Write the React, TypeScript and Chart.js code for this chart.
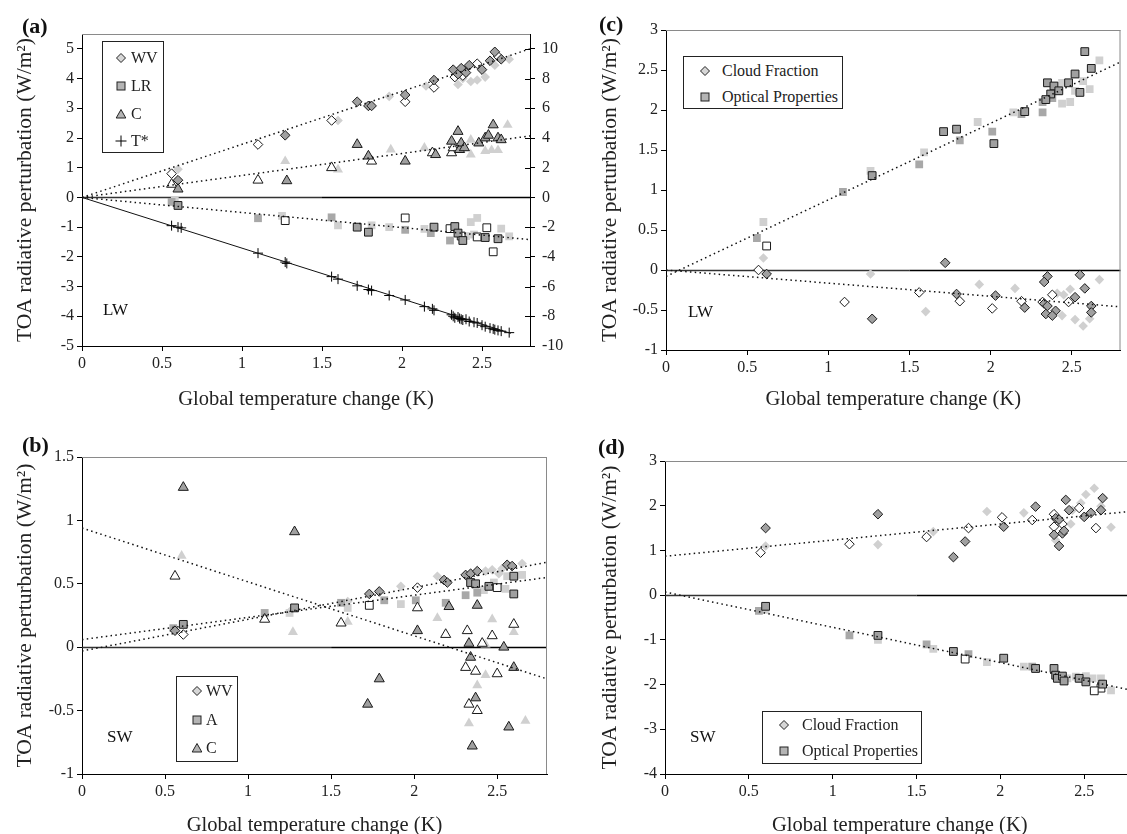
import React, { useEffect, useRef } from 'react';
import { Chart, registerables } from 'chart.js';
Chart.register(...registerables);

type P = [number, number];

// ---------- Panel (a) LW : left axis W/m2, T* on right axis ----------
const aWV_dark: P[] = [[0.6,0.58],[1.27,2.09],[1.72,3.22],[1.79,3.08],[1.81,3.08],[2.02,3.45],[2.2,3.95],[2.32,4.3],[2.35,4.15],[2.37,4.35],[2.4,4.2],[2.42,4.45],[2.5,4.3],[2.55,4.6],[2.58,4.9],[2.62,4.65]];
const aWV_open: P[] = [[0.56,0.8],[1.1,1.78],[1.56,2.59],[2.02,3.22],[2.2,3.7],[2.33,4.05],[2.38,4.1],[2.47,4.5],[2.6,4.75]];
const aWV_light: P[] = [[0.6,0.95],[1.6,2.59],[1.92,3.4],[2.15,3.75],[2.35,3.8],[2.43,3.9],[2.47,3.95],[2.52,4.05],[2.58,4.45],[2.67,4.65],[2.38,4.0]];
const aLR_dark: P[] = [[0.6,-0.27],[1.72,-1.0],[1.79,-1.17],[2.2,-1.0],[2.33,-0.98],[2.35,-1.2],[2.38,-1.45],[2.52,-1.35],[2.6,-1.39]];
const aLR_open: P[] = [[1.27,-0.78],[2.02,-0.69],[2.3,-1.05],[2.37,-1.3],[2.47,-1.33],[2.53,-1.02],[2.57,-1.83]];
const aLR_mid: P[] = [[0.56,-0.15],[1.1,-0.7],[1.56,-0.67],[2.02,-1.09],[2.18,-1.2],[2.3,-1.45]];
const aLR_light: P[] = [[0.58,-0.1],[1.25,-0.62],[1.6,-0.94],[1.81,-0.94],[1.92,-1.0],[2.14,-1.06],[2.4,-1.3],[2.43,-0.83],[2.47,-0.69],[2.62,-1.05],[2.67,-1.31],[2.45,-1.25]];
const aC_dark: P[] = [[0.6,0.28],[1.28,0.56],[1.72,1.78],[1.79,1.39],[2.02,1.22],[2.21,1.44],[2.31,1.89],[2.35,2.22],[2.36,1.61],[2.37,1.83],[2.39,1.67],[2.48,1.83],[2.52,2.0],[2.54,2.09],[2.57,2.44],[2.6,2.0],[2.62,1.94]];
const aC_open: P[] = [[0.56,0.44],[1.1,0.58],[1.56,1.0],[1.81,1.22],[2.19,1.5],[2.31,1.5],[2.32,1.67]];
const aC_light: P[] = [[1.27,1.22],[1.6,0.94],[1.93,1.61],[2.14,1.67],[2.43,1.94],[2.43,1.44],[2.52,1.56],[2.56,1.59],[2.6,1.59],[2.66,2.44]];
const aT_right: P[] = [[0.56,-1.9],[0.6,-2.0],[0.62,-2.05],[1.1,-3.75],[1.27,-4.35],[1.28,-4.44],[1.56,-5.33],[1.6,-5.5],[1.72,-5.95],[1.79,-6.2],[1.81,-6.27],[1.92,-6.6],[2.02,-6.9],[2.14,-7.35],[2.19,-7.5],[2.2,-7.6],[2.31,-7.9],[2.32,-8.0],[2.33,-8.1],[2.35,-8.05],[2.36,-8.15],[2.37,-8.2],[2.38,-8.25],[2.4,-8.2],[2.42,-8.35],[2.45,-8.4],[2.47,-8.45],[2.5,-8.6],[2.52,-8.7],[2.55,-8.8],[2.57,-8.85],[2.58,-8.9],[2.6,-8.95],[2.62,-9.0],[2.67,-9.1]];
const aWV_fit: P[] = [[0,0],[2.8,5.0]];
const aLR_fit: P[] = [[0,0],[2.8,-1.42]];
const aC_fit: P[] = [[0,0],[2.8,2.07]];
const aT_fit: P[] = [[0,0],[2.68,-9.15]];

// ---------- Panel (b) SW ----------
const bWV_dark: P[] = [[0.56,0.13],[1.73,0.42],[1.79,0.44],[2.18,0.53],[2.2,0.51],[2.31,0.57],[2.34,0.58],[2.38,0.6],[2.56,0.65],[2.59,0.64]];
const bWV_open: P[] = [[0.61,0.1],[2.02,0.47]];
const bWV_light: P[] = [[1.25,0.28],[1.6,0.36],[1.92,0.48],[2.14,0.56],[2.43,0.6],[2.47,0.61],[2.51,0.58],[2.53,0.62],[2.65,0.66]];
const bA_dark: P[] = [[0.61,0.18],[1.28,0.31],[2.34,0.51],[2.37,0.5],[2.45,0.48],[2.6,0.42],[2.6,0.56]];
const bA_open: P[] = [[1.73,0.33],[2.5,0.47]];
const bA_mid: P[] = [[0.55,0.15],[1.1,0.27],[1.56,0.35],[1.82,0.37],[2.01,0.37],[2.19,0.35],[2.31,0.41],[2.38,0.43]];
const bA_light: P[] = [[1.25,0.27],[1.6,0.31],[1.92,0.34],[2.42,0.45],[2.48,0.51],[2.55,0.46],[2.56,0.56],[2.65,0.57]];
const bC_dark: P[] = [[0.61,1.26],[1.28,0.91],[1.72,-0.45],[1.79,-0.25],[2.02,0.13],[2.21,0.32],[2.33,0.03],[2.34,-0.08],[2.38,0.33],[2.54,0.0],[2.6,-0.16],[2.35,-0.78],[2.37,-0.4],[2.57,-0.63]];
const bC_open: P[] = [[0.56,0.56],[1.1,0.22],[1.56,0.19],[2.02,0.31],[2.19,0.1],[2.32,0.13],[2.31,-0.16],[2.37,-0.19],[2.41,0.03],[2.47,0.09],[2.5,-0.21],[2.6,0.18],[2.33,-0.45],[2.38,-0.5]];
const bC_light: P[] = [[0.6,0.72],[1.27,0.12],[1.6,0.2],[2.14,0.23],[2.43,0.02],[2.43,-0.22],[2.47,0.22],[2.6,0.12],[2.38,-0.3],[2.33,-0.6],[2.67,-0.58]];
const bC_fit: P[] = [[0,0.94],[2.8,-0.25]];
const bWV_fit: P[] = [[0,-0.03],[2.8,0.67]];
const bA_fit: P[] = [[0,0.06],[2.8,0.55]];

// ---------- Panel (c) LW clouds ----------
const cCF_dark: P[] = [[0.62,-0.05],[1.27,-0.61],[1.72,0.09],[1.79,-0.3],[2.03,-0.32],[2.21,-0.47],[2.35,-0.08],[2.33,-0.15],[2.33,-0.42],[2.35,-0.45],[2.34,-0.55],[2.4,-0.51],[2.38,-0.57],[2.52,-0.34],[2.55,-0.06],[2.58,-0.23],[2.62,-0.45],[2.62,-0.53]];
const cCF_open: P[] = [[0.57,0.0],[1.1,-0.4],[1.56,-0.28],[1.81,-0.39],[2.01,-0.48],[2.19,-0.39],[2.32,-0.4],[2.38,-0.31],[2.48,-0.4]];
const cCF_light: P[] = [[0.6,0.15],[1.26,-0.05],[1.6,-0.52],[1.93,-0.18],[2.15,-0.23],[2.41,-0.29],[2.45,-0.31],[2.44,-0.57],[2.49,-0.24],[2.52,-0.62],[2.57,-0.7],[2.61,-0.61],[2.67,-0.12]];
const cOP_dark: P[] = [[1.27,1.18],[1.71,1.73],[1.79,1.76],[2.02,1.58],[2.21,1.98],[2.35,2.34],[2.39,2.3],[2.37,2.2],[2.34,2.13],[2.42,2.24],[2.48,2.34],[2.52,2.45],[2.55,2.22],[2.58,2.73],[2.62,2.52]];
const cOP_open: P[] = [[0.62,0.3]];
const cOP_mid: P[] = [[0.56,0.4],[1.09,0.975],[1.56,1.32],[1.81,1.62],[2.01,1.73],[2.19,1.95],[2.32,1.97],[2.32,2.1],[2.38,2.15]];
const cOP_light: P[] = [[0.6,0.6],[1.26,1.24],[1.59,1.47],[1.92,1.85],[2.14,1.97],[2.44,2.34],[2.44,2.08],[2.49,2.1],[2.52,2.24],[2.57,2.36],[2.61,2.26],[2.67,2.62]];
const cOP_fit: P[] = [[0,-0.08],[2.8,2.6]];
const cCF_fit: P[] = [[0,0.0],[2.8,-0.46]];

// ---------- Panel (d) SW clouds ----------
const dCF_open: P[] = [[0.57,0.95],[1.1,1.14],[1.56,1.3],[1.81,1.5],[2.01,1.74],[2.19,1.68],[2.32,1.81],[2.32,1.53],[2.37,1.59],[2.47,1.95],[2.57,1.5]];
const dCF_dark: P[] = [[0.6,1.5],[1.27,1.81],[1.72,0.85],[1.79,1.2],[2.02,1.53],[2.21,1.98],[2.33,1.72],[2.35,1.69],[2.32,1.35],[2.35,1.1],[2.37,1.38],[2.38,1.44],[2.39,2.13],[2.41,1.9],[2.5,1.75],[2.54,1.84],[2.61,2.17],[2.6,1.9]];
const dCF_light: P[] = [[0.6,1.1],[1.27,1.13],[1.6,1.42],[1.92,1.87],[2.14,1.84],[2.33,1.23],[2.42,1.59],[2.43,1.9],[2.48,2.06],[2.51,2.25],[2.56,2.39],[2.6,1.99],[2.66,1.52]];
const dOP_mid: P[] = [[0.56,-0.35],[1.1,-0.9],[1.56,-1.1],[1.81,-1.32],[2.19,-1.6]];
const dOP_dark: P[] = [[0.6,-0.25],[1.27,-0.9],[1.72,-1.26],[2.02,-1.41],[2.21,-1.64],[2.32,-1.64],[2.33,-1.79],[2.34,-1.86],[2.37,-1.81],[2.38,-1.92],[2.47,-1.86],[2.51,-1.94],[2.61,-1.99]];
const dOP_open: P[] = [[1.79,-1.43],[2.6,-2.08],[2.56,-2.14]];
const dOP_light: P[] = [[0.6,-0.33],[1.27,-1.0],[1.6,-1.2],[1.92,-1.5],[2.14,-1.6],[2.4,-1.86],[2.45,-1.82],[2.51,-1.81],[2.55,-1.86],[2.6,-1.86],[2.66,-2.13]];
const dCF_fit: P[] = [[0,0.87],[2.8,1.88]];
const dOP_fit: P[] = [[0,0.07],[2.8,-2.14]];

const X_TITLE = 'Global temperature change (K)';
const Y_TITLE = 'TOA radiative perturbation (W/m²)';

// ------------------------------------------------------------
const SERIF = "'Liberation Serif', 'Times New Roman', serif";
const TICK_SIZE = 16;
const XT_SIZE = 20.5;
const YT_SIZE = 21.5;
type Style = 'dark' | 'open' | 'mid' | 'light';
const STY: Record<Style, { bg: string; bd: string; bw: number; order: number }> = {
  dark: { bg: '#a0a0a0', bd: '#1a1a1a', bw: 1, order: 2 },
  open: { bg: '#ffffff', bd: '#1a1a1a', bw: 1, order: 2 },
  mid: { bg: '#a8a8a8', bd: '#a8a8a8', bw: 0, order: 3 },
  light: { bg: '#d0d0d0', bd: '#d0d0d0', bw: 0, order: 4 },
};
const RAD: Record<string, number> = { rectRot: 4.8, rect: 5.5, triangle: 5.8, cross: 5 };

function pts(data: P[], shape: string, style: Style, yAxisID = 'y') {
  const s = STY[style];
  return {
    data: data.map(([x, y]) => ({ x, y })),
    pointStyle: shape,
    pointRadius: RAD[shape],
    pointBackgroundColor: s.bg,
    pointBorderColor: s.bd,
    pointBorderWidth: s.bw,
    showLine: false,
    yAxisID,
    order: s.order,
  };
}
function cross(data: P[], yAxisID = 'y') {
  return {
    data: data.map(([x, y]) => ({ x, y })),
    pointStyle: 'cross',
    pointRadius: RAD.cross,
    pointBorderColor: '#000',
    pointBorderWidth: 1,
    showLine: false,
    yAxisID,
    order: 2,
  };
}
function fit(data: P[], dashed = true, yAxisID = 'y') {
  return {
    data: data.map(([x, y]) => ({ x, y })),
    showLine: true,
    borderColor: '#111',
    borderWidth: dashed ? 1.5 : 1,
    borderDash: dashed ? [1.5, 3.3] : [],
    pointRadius: 0,
    fill: false,
    yAxisID,
    order: 1,
  };
}

const fmt = (v: number) => String(Math.round(v * 100) / 100);

// zero reference line: slightly lighter up to x = 1.5, solid black beyond (as in the original)
const zeroPlugin = {
  id: 'zeroLine',
  beforeDatasetsDraw(chart: any) {
    const { ctx, chartArea, scales } = chart;
    const y0 = Math.round(scales.y.getPixelForValue(0)) + 0.5;
    const xm = scales.x.getPixelForValue(1.5);
    ctx.save();
    ctx.lineWidth = 1.3;
    ctx.strokeStyle = '#333';
    ctx.beginPath();
    ctx.moveTo(chartArea.left, y0);
    ctx.lineTo(xm, y0);
    ctx.stroke();
    ctx.lineWidth = 1.6;
    ctx.strokeStyle = '#000';
    ctx.beginPath();
    ctx.moveTo(xm, y0);
    ctx.lineTo(chartArea.right, y0);
    ctx.stroke();
    ctx.restore();
  },
};

const framePlugin = {
  id: 'frame',
  afterDraw(chart: any, _args: any, opts: any) {
    const { ctx, chartArea } = chart;
    const { left, right, top, bottom } = chartArea;
    ctx.save();
    ctx.strokeStyle = '#8a8a8a';
    ctx.lineWidth = 1;
    ctx.beginPath();
    ctx.moveTo(left, top + 0.5);
    ctx.lineTo(right, top + 0.5);
    if (!opts.y2) {
      ctx.moveTo(right - 0.5, top);
      ctx.lineTo(right - 0.5, bottom);
    }
    ctx.stroke();
    if (opts.y2 && chart.scales.y2) {
      ctx.strokeStyle = '#000';
      ctx.beginPath();
      for (const t of chart.scales.y2.ticks) {
        const py = Math.round(chart.scales.y2.getPixelForValue(t.value)) + 0.5;
        ctx.moveTo(right - 5, py);
        ctx.lineTo(right, py);
      }
      ctx.stroke();
    }
    ctx.restore();
  },
};

interface PanelCfg {
  left: number; top: number; width: number; height: number;
  area: { left: number; right: number; top: number; bottom: number };
  xMax: number;
  y: { min: number; max: number; step: number };
  y2?: { min: number; max: number; step: number };
  yTitleCenter: number; // px from canvas left
  xTitleCenter: number; // px from canvas bottom
  datasets: any[];
}

function makeChart(canvas: HTMLCanvasElement, c: PanelCfg) {
  const tickFont = { family: SERIF, size: TICK_SIZE };
  const xtFont = { family: SERIF, size: XT_SIZE, lineHeight: 1 };
  const ytFont = { family: SERIF, size: YT_SIZE, lineHeight: 1 };
  const scales: any = {
    x: {
      type: 'linear', min: 0, max: c.xMax,
      afterFit: (s: any) => { s.height = c.height - c.area.bottom; },
      ticks: { stepSize: 0.5, includeBounds: false, autoSkip: false, maxRotation: 0, font: tickFont, color: '#222', padding: 3, callback: (v: any) => fmt(v) },
      grid: { drawOnChartArea: false, drawTicks: true, tickLength: 5, tickColor: '#000', tickWidth: 1 },
      border: { display: true, color: '#000', width: 1 },
      title: { display: true, text: X_TITLE, font: xtFont, color: '#222', padding: { top: 0, bottom: c.xTitleCenter - XT_SIZE / 2 } },
    },
    y: {
      type: 'linear', position: 'left', min: c.y.min, max: c.y.max,
      afterFit: (s: any) => { s.width = c.area.left; },
      ticks: { stepSize: c.y.step, includeBounds: false, autoSkip: false, font: tickFont, color: '#222', padding: 3, callback: (v: any) => fmt(v) },
      grid: { drawOnChartArea: false, drawTicks: true, tickLength: 5, tickColor: '#000', tickWidth: 1 },
      border: { display: true, color: '#000', width: 1 },
      title: { display: true, text: Y_TITLE, font: ytFont, color: '#222', padding: { top: c.yTitleCenter - YT_SIZE / 2, bottom: 0 } },
    },
  };
  if (c.y2) {
    scales.y2 = {
      type: 'linear', position: 'right', min: c.y2.min, max: c.y2.max,
      afterFit: (s: any) => { s.width = c.width - c.area.right; },
      ticks: { stepSize: c.y2.step, includeBounds: false, autoSkip: false, font: tickFont, color: '#222', padding: 7, callback: (v: any) => fmt(v) },
      grid: { drawOnChartArea: false, drawTicks: true, tickLength: 5, tickColor: '#000', tickWidth: 1 },
      border: { display: true, color: '#000', width: 1 },
    };
  }
  return new Chart(canvas, {
    type: 'scatter',
    data: { datasets: c.datasets },
    plugins: [zeroPlugin, framePlugin],
    options: {
      responsive: false,
      animation: false,
      events: [],
      devicePixelRatio: 1,
      layout: { padding: { left: 0, top: c.area.top, right: c.y2 ? 0 : c.width - c.area.right, bottom: 0 } },
      plugins: { legend: { display: false }, tooltip: { enabled: false }, frame: { y2: !!c.y2 } } as any,
      scales,
    } as any,
  });
}

const PANELS: PanelCfg[] = [
  {
    left: 0, top: 0, width: 575, height: 420,
    area: { left: 82, right: 530, top: 34, bottom: 346 },
    xMax: 2.8, y: { min: -5, max: 5.5, step: 1 }, y2: { min: -10, max: 11, step: 2 },
    yTitleCenter: 25, xTitleCenter: 20,
    datasets: [
      fit(aWV_fit), fit(aLR_fit), fit(aC_fit), fit(aT_fit, false, 'y2'),
      pts(aWV_dark, 'rectRot', 'dark'), pts(aWV_open, 'rectRot', 'open'), pts(aWV_light, 'rectRot', 'light'),
      pts(aLR_dark, 'rect', 'dark'), pts(aLR_open, 'rect', 'open'), pts(aLR_mid, 'rect', 'mid'), pts(aLR_light, 'rect', 'light'),
      pts(aC_dark, 'triangle', 'dark'), pts(aC_open, 'triangle', 'open'), pts(aC_light, 'triangle', 'light'),
      cross(aT_right, 'y2'),
    ],
  },
  {
    left: 0, top: 420, width: 560, height: 420,
    area: { left: 82, right: 547, top: 37, bottom: 354 },
    xMax: 2.8, y: { min: -1, max: 1.5, step: 0.5 },
    yTitleCenter: 25, xTitleCenter: 14,
    datasets: [
      fit(bC_fit), fit(bWV_fit), fit(bA_fit),
      pts(bWV_dark, 'rectRot', 'dark'), pts(bWV_open, 'rectRot', 'open'), pts(bWV_light, 'rectRot', 'light'),
      pts(bA_dark, 'rect', 'dark'), pts(bA_open, 'rect', 'open'), pts(bA_mid, 'rect', 'mid'), pts(bA_light, 'rect', 'light'),
      pts(bC_dark, 'triangle', 'dark'), pts(bC_open, 'triangle', 'open'), pts(bC_light, 'triangle', 'light'),
    ],
  },
  {
    left: 560, top: 0, width: 567, height: 420,
    area: { left: 106, right: 565, top: 30, bottom: 350 },
    xMax: 2.8, y: { min: -1, max: 3, step: 0.5 },
    yTitleCenter: 50, xTitleCenter: 20,
    datasets: [
      fit(cOP_fit), fit(cCF_fit),
      pts(cCF_dark, 'rectRot', 'dark'), pts(cCF_open, 'rectRot', 'open'), pts(cCF_light, 'rectRot', 'light'),
      pts(cOP_dark, 'rect', 'dark'), pts(cOP_open, 'rect', 'open'), pts(cOP_mid, 'rect', 'mid'), pts(cOP_light, 'rect', 'light'),
    ],
  },
  {
    left: 560, top: 420, width: 581, height: 420,
    area: { left: 105, right: 578, top: 41, bottom: 354 },
    xMax: 2.8, y: { min: -4, max: 3, step: 1 },
    yTitleCenter: 50, xTitleCenter: 14,
    datasets: [
      fit(dCF_fit), fit(dOP_fit),
      pts(dCF_dark, 'rectRot', 'dark'), pts(dCF_open, 'rectRot', 'open'), pts(dCF_light, 'rectRot', 'light'),
      pts(dOP_dark, 'rect', 'dark'), pts(dOP_open, 'rect', 'open'), pts(dOP_mid, 'rect', 'mid'), pts(dOP_light, 'rect', 'light'),
    ],
  },
];

function Panel({ cfg }: { cfg: PanelCfg }) {
  const ref = useRef<HTMLCanvasElement>(null);
  useEffect(() => {
    if (!ref.current) return;
    const ch = makeChart(ref.current, cfg);
    return () => ch.destroy();
  }, [cfg]);
  return (
    <canvas
      ref={ref}
      width={cfg.width}
      height={cfg.height}
      style={{ position: 'absolute', left: cfg.left, top: cfg.top, width: cfg.width, height: cfg.height }}
    />
  );
}

function Marker({ shape }: { shape: string }) {
  const st = { stroke: '#222', strokeWidth: 1, fill: '#b4b4b4' };
  return (
    <svg width={12} height={12} viewBox="0 0 12 12" style={{ display: 'block' }}>
      {shape === 'diamond' && <polygon points="6,1.5 10.5,6 6,10.5 1.5,6" {...st} fill="#d6d6d6" />}
      {shape === 'square' && <rect x={2} y={2} width={8} height={8} {...st} />}
      {shape === 'triangle' && <polygon points="6,1.5 10.8,10 1.2,10" {...st} />}
      {shape === 'plus' && (
        <g stroke="#000" strokeWidth={1}>
          <line x1={6} y1={0.5} x2={6} y2={11.5} />
          <line x1={0.5} y1={6} x2={11.5} y2={6} />
        </g>
      )}
    </svg>
  );
}

interface LegendProps {
  left: number; top: number; width: number; height: number;
  markerX: number; textX: number; rows: number[];
  items: { shape: string; label: string }[];
  size: number;
}
function Legend(p: LegendProps) {
  return (
    <div style={{ position: 'absolute', left: p.left, top: p.top, width: p.width, height: p.height, border: '1px solid #222', background: '#fff', boxSizing: 'border-box' }}>
      {p.items.map((it, i) => (
        <React.Fragment key={i}>
          <div style={{ position: 'absolute', left: p.markerX - 6, top: p.rows[i] - 6 }}>
            <Marker shape={it.shape} />
          </div>
          <div style={{ position: 'absolute', left: p.textX, top: p.rows[i] - p.size * 0.6, fontFamily: SERIF, fontSize: p.size, lineHeight: `${p.size * 1.2}px`, color: '#222', whiteSpace: 'nowrap' }}>
            {it.label}
          </div>
        </React.Fragment>
      ))}
    </div>
  );
}

function Label({ x, y, text, bold, size }: { x: number; y: number; text: string; bold?: boolean; size: number }) {
  return (
    <div style={{ position: 'absolute', left: x, top: y - size * 0.6, fontFamily: SERIF, fontSize: size, fontWeight: bold ? 'bold' : 'normal', lineHeight: `${size * 1.2}px`, color: '#111', whiteSpace: 'nowrap' }}>
      {text}
    </div>
  );
}

export default function App() {
  return (
    <div style={{ position: 'fixed', left: 0, top: 0, width: 1127, height: 834, overflow: 'hidden', background: '#fff' }}>
      {PANELS.map((p, i) => <Panel key={i} cfg={p} />)}

      <Label x={22} y={26} text="(a)" bold size={22} />
      <Label x={22} y={445} text="(b)" bold size={22} />
      <Label x={599} y={24} text="(c)" bold size={22} />
      <Label x={598} y={447} text="(d)" bold size={22} />

      <Label x={103} y={310} text="LW" size={17} />
      <Label x={107} y={737} text="SW" size={17} />
      <Label x={688} y={312} text="LW" size={17} />
      <Label x={690} y={737} text="SW" size={17} />

      <Legend left={102} top={41} width={62} height={112} markerX={18} textX={28} rows={[16, 44, 72, 99]} size={16}
        items={[{ shape: 'diamond', label: 'WV' }, { shape: 'square', label: 'LR' }, { shape: 'triangle', label: 'C' }, { shape: 'plus', label: 'T*' }]} />
      <Legend left={176} top={676} width={62} height={86} markerX={20} textX={29} rows={[14, 43, 71]} size={16}
        items={[{ shape: 'diamond', label: 'WV' }, { shape: 'square', label: 'A' }, { shape: 'triangle', label: 'C' }]} />
      <Legend left={683} top={56} width={160} height={53} markerX={21} textX={38} rows={[14, 40]} size={16}
        items={[{ shape: 'diamond', label: 'Cloud Fraction' }, { shape: 'square', label: 'Optical Properties' }]} />
      <Legend left={762} top={711} width={160} height={53} markerX={21} textX={39} rows={[13, 39]} size={16}
        items={[{ shape: 'diamond', label: 'Cloud Fraction' }, { shape: 'square', label: 'Optical Properties' }]} />
    </div>
  );
}
